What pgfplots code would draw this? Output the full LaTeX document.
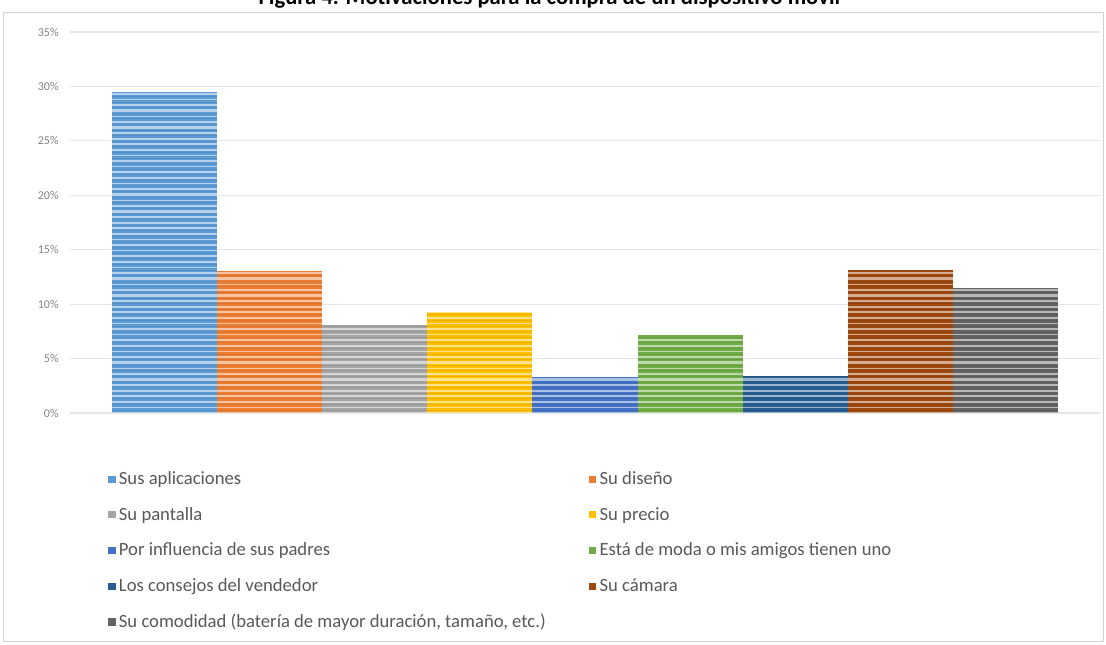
\documentclass[border=0pt]{standalone}
\usepackage{fontspec}
\setmainfont{Carlito}
\usepackage{pgfplots}
\pgfplotsset{compat=1.18}
\usepackage{pgfplotstable}

\definecolor{cA}{HTML}{5B9BD5}
\definecolor{cB}{HTML}{ED7D31}
\definecolor{cC}{HTML}{A5A5A5}
\definecolor{cD}{HTML}{FFC000}
\definecolor{cE}{HTML}{4472C4}
\definecolor{cF}{HTML}{70AD47}
\definecolor{cG}{HTML}{255E91}
\definecolor{cH}{HTML}{9E480E}
\definecolor{cI}{HTML}{636363}
\definecolor{gridgray}{HTML}{E6E6E6}
\definecolor{labgray}{HTML}{595959}

% horizontal light/dark striping drawn inside each column (basic-layer strokes)
\tikzset{striped/.style={path picture={%
  \pgfpointanchor{path picture bounding box}{north west}\pgfgetlastxy{\xa}{\ya}%
  \pgfpointanchor{path picture bounding box}{north east}\pgfgetlastxy{\xb}{\yb}%
  \foreach \k in {0,...,75}{%
    \pgfmathsetmacro{\w}{mod(\k,3)==0 ? 1.8 : (mod(\k,3)==1 ? 1.0 : 1.3)}%
    \pgfsetlinewidth{\w pt}\pgfsetstrokecolor{white}\pgfsetstrokeopacity{0.55}%
    \pgfpathmoveto{\pgfpoint{\xa}{\ya-\k*4.2pt-1.5pt}}%
    \pgfpathlineto{\pgfpoint{\xb}{\ya-\k*4.2pt-1.5pt}}%
    \pgfusepath{stroke}%
    \pgfsetlinewidth{0.7pt}\pgfsetstrokecolor{black}\pgfsetstrokeopacity{0.07}%
    \pgfpathmoveto{\pgfpoint{\xa}{\ya-\k*4.2pt-3.4pt}}%
    \pgfpathlineto{\pgfpoint{\xb}{\ya-\k*4.2pt-3.4pt}}%
    \pgfusepath{stroke}%
  }}}}

% share of respondents (%) for each reason
\pgfplotstableread{
x y
0 29.5
1 13.0
2 8.1
3 9.3
4 3.3
5 7.2
6 3.4
7 13.1
8 11.5
}\motivos

\begin{document}
\begin{tikzpicture}
% outer frame of the chart
\draw[gray!35, line width=0.75pt] (2.25pt,-9pt) rectangle (827.25pt,-481pt);
% title
\node[anchor=base, font=\bfseries\fontsize{17}{20}\selectfont] at (412pt,-3.5pt)
  {Figura 4. Motivaciones para la compra de un dispositivo móvil};

\begin{axis}[
  scale only axis,
  width=772.5pt, height=285.75pt,
  at={(52.5pt,-309.75pt)}, anchor=south west,
  xmin=-0.9, xmax=8.9, ymin=0, ymax=35,
  axis line style={draw=none},
  xtick=\empty,
  ytick={0,5,...,35},
  major tick length=0pt,
  ymajorgrids,
  grid style={draw=gridgray, line width=0.8pt},
  yticklabel={\pgfmathprintnumber{\tick}\%},
  /pgf/number format/assume math mode=true,
  yticklabel style={font=\fontsize{9}{10}\selectfont, text=labgray!75, xshift=-5pt},
  bar width=1,
  legend columns=2,
  legend cell align=left,
  legend image code/.code={\fill[#1] (0pt,-2.7pt) rectangle (5.4pt,2.7pt);},
  legend style={
    at={(0.037,-0.15)}, anchor=north west,
    draw=none, inner sep=0pt,
    font=\fontsize{14}{16.5}\selectfont, text=labgray,
    row sep=13.5pt,
    nodes={inner xsep=2.5pt, inner ysep=1pt},
    /tikz/every even column/.append style={column sep=30pt},
  },
]
\addplot[ybar, bar shift=0pt, fill=cA, draw=none] table[x=x, y=y, restrict expr to domain={\coordindex}{0:0}] {\motivos};
\addlegendentry{Sus aplicaciones}
\addplot[ybar, bar shift=0pt, fill=cB, draw=none] table[x=x, y=y, restrict expr to domain={\coordindex}{1:1}] {\motivos};
\addlegendentry{Su diseño}
\addplot[ybar, bar shift=0pt, fill=cC, draw=none] table[x=x, y=y, restrict expr to domain={\coordindex}{2:2}] {\motivos};
\addlegendentry{Su pantalla}
\addplot[ybar, bar shift=0pt, fill=cD, draw=none] table[x=x, y=y, restrict expr to domain={\coordindex}{3:3}] {\motivos};
\addlegendentry{Su precio}
\addplot[ybar, bar shift=0pt, fill=cE, draw=none] table[x=x, y=y, restrict expr to domain={\coordindex}{4:4}] {\motivos};
\addlegendentry{Por influencia de sus padres}
\addplot[ybar, bar shift=0pt, fill=cF, draw=none] table[x=x, y=y, restrict expr to domain={\coordindex}{5:5}] {\motivos};
\addlegendentry{Está de moda o mis amigos tienen uno}
\addplot[ybar, bar shift=0pt, fill=cG, draw=none] table[x=x, y=y, restrict expr to domain={\coordindex}{6:6}] {\motivos};
\addlegendentry{Los consejos del vendedor}
\addplot[ybar, bar shift=0pt, fill=cH, draw=none] table[x=x, y=y, restrict expr to domain={\coordindex}{7:7}] {\motivos};
\addlegendentry{Su cámara}
\addplot[ybar, bar shift=0pt, fill=cI, draw=none] table[x=x, y=y, restrict expr to domain={\coordindex}{8:8}] {\motivos};
\addlegendentry{Su comodidad (batería de mayor duración, tamaño, etc.)}
% striping over every column
\addplot[forget plot, ybar, bar shift=0pt, draw=none, striped]
  table[x=x, y=y] {\motivos};
\end{axis}

\pgfresetboundingbox
\useasboundingbox (0pt,0pt) rectangle (829.5pt,-483pt);
\end{tikzpicture}
\end{document}
